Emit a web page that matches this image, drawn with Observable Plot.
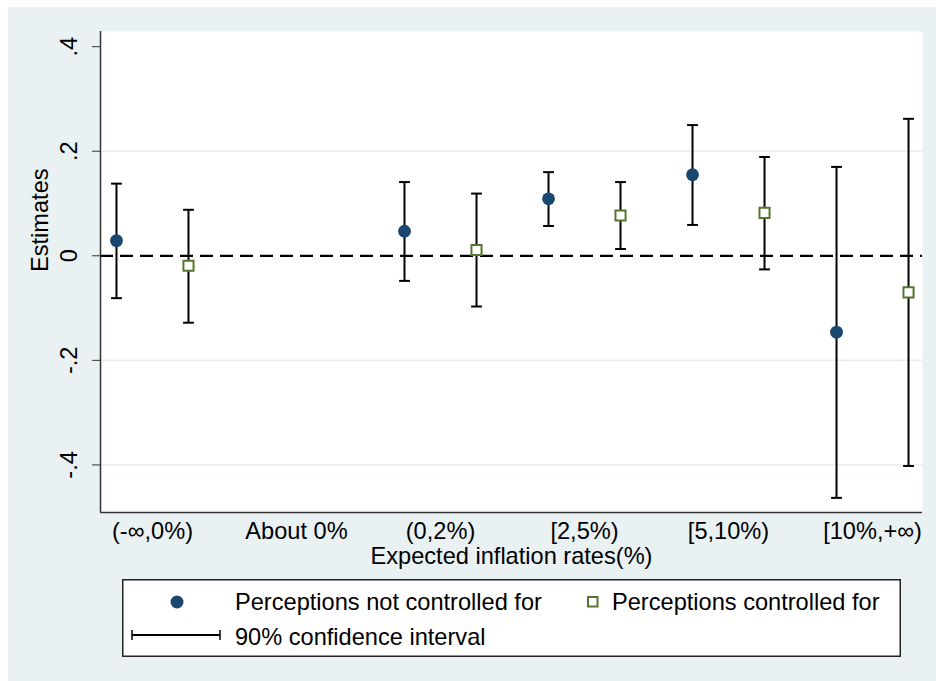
<!DOCTYPE html>
<html><head><meta charset="utf-8">
<script src="https://cdn.jsdelivr.net/npm/d3@7"></script>
<script src="https://cdn.jsdelivr.net/npm/@observablehq/plot@0.6"></script>
<style>
html,body{margin:0;padding:0;background:#fff;}
#wrap{position:relative;width:936px;height:681px;overflow:hidden;}
#bg{position:absolute;left:8px;top:7px;width:928px;height:674px;background:#eaf1f3;}
#chart{position:absolute;left:0;top:0;}
#legend{position:absolute;left:122px;top:579px;}
</style></head><body>
<div id="wrap"><div id="bg"></div><div id="chart"></div><div id="legend"></div></div>
<script>
const categories = ["(-∞,0%)", "About 0%", "(0,2%)", "[2,5%)", "[5,10%)", "[10%,+∞)"];
// Perceptions not controlled for (null = no estimate shown)
const notCtrlEst = [0.029, null, 0.047, 0.109, 0.155, -0.146];
const notCtrlLo  = [-0.081, null, -0.048, 0.057, 0.059, -0.463];
const notCtrlHi  = [0.138, null, 0.141, 0.160, 0.250, 0.170];
// Perceptions controlled for
const ctrlEst = [-0.019, null, 0.011, 0.077, 0.082, -0.070];
const ctrlLo  = [-0.128, null, -0.097, 0.013, -0.026, -0.402];
const ctrlHi  = [0.088, null, 0.119, 0.141, 0.189, 0.262];
const yTicks = [0.4, 0.2, 0, -0.2, -0.4];
const yTickLabels = [".4", ".2", "0", "-.2", "-.4"];
const gridValues = [0.2, -0.2, -0.4];
const seriesNames = ["Perceptions not controlled for", "Perceptions controlled for"];
const ciLabel = "90% confidence interval";
const xTitle = "Expected inflation rates(%)";
const yTitle = "Estimates";

const navy = "#1a476f", green = "#55752f";
const FONT = "'Liberation Sans', Arial, Helvetica, sans-serif";
const FS = 23.6;

function rowsFor(est, lo, hi, offset, series) {
  const out = [];
  est.forEach((v, i) => { if (v != null) out.push({x: i + offset, est: v, lo: lo[i], hi: hi[i], series}); });
  return out;
}
const rowsA = rowsFor(notCtrlEst, notCtrlLo, notCtrlHi, -0.25, seriesNames[0]);
const rowsB = rowsFor(ctrlEst, ctrlLo, ctrlHi, 0.25, seriesNames[1]);
const allRows = rowsA.concat(rowsB);

const xDomain = [-0.361, 5.347];
const yDomain = [-0.491, 0.429];

const capSymbol = {draw(ctx, size) { const r = Math.sqrt(size / Math.PI); ctx.moveTo(-r, 0); ctx.lineTo(r, 0); }};

const plot = Plot.plot({
  width: 936, height: 575,
  marginLeft: 100, marginRight: 14, marginTop: 31, marginBottom: 63,
  style: {fontFamily: FONT, fontSize: FS + "px", color: "#000", background: "transparent", overflow: "visible"},
  x: {type: "linear", domain: xDomain, label: null},
  y: {domain: yDomain, label: null},
  marks: [
    Plot.frame({fill: "white", stroke: null}),
    Plot.ruleY(gridValues, {stroke: "#e6eef1", strokeWidth: 1.5}),
    Plot.ruleY([0], {stroke: "#000", strokeWidth: 2.2, strokeDasharray: "13,7"}),
    Plot.ruleX([xDomain[0]], {stroke: "#333", strokeWidth: 1.5}),
    Plot.ruleY([yDomain[0]], {stroke: "#333", strokeWidth: 1.5}),
    Plot.ruleX(allRows, {x: "x", y1: "lo", y2: "hi", stroke: "#000", strokeWidth: 2}),
    Plot.dot(allRows, {x: "x", y: "hi", symbol: capSymbol, r: 5.4, fill: "none", stroke: "#000", strokeWidth: 2}),
    Plot.dot(allRows, {x: "x", y: "lo", symbol: capSymbol, r: 5.4, fill: "none", stroke: "#000", strokeWidth: 2}),
    Plot.dot(rowsA, {x: "x", y: "est", r: 6.4, fill: navy, stroke: null}),
    Plot.dot(rowsB, {x: "x", y: "est", symbol: "square", r: 5.7, fill: "white", stroke: green, strokeWidth: 2}),
    Plot.axisX(d3.range(categories.length), {tickFormat: i => categories[i], tickSize: 0, tickPadding: 10, fontSize: FS, label: null}),
    Plot.axisY(yTicks, {tickSize: 8, tickFormat: d => yTickLabels[yTicks.indexOf(d)], tickRotate: -90, tickPadding: 16, fontSize: FS, label: null, stroke: "#333"}),
    Plot.text([yTitle], {text: d => d, frameAnchor: "left", dx: -60, rotate: -90, fontSize: FS}),
    Plot.text([xTitle], {text: d => d, frameAnchor: "bottom", dy: 51, lineAnchor: "bottom", fontSize: FS})
  ]
});
document.getElementById("chart").appendChild(plot);

// Legend
const lw = 779, lh = 78;
const leg = d3.select("#legend").append("svg").attr("width", lw).attr("height", lh)
  .style("font-family", FONT).style("font-size", FS + "px");
leg.append("rect").attr("x", 0.75).attr("y", 0.75).attr("width", lw - 1.5).attr("height", lh - 1.5)
  .attr("fill", "white").attr("stroke", "#222").attr("stroke-width", 1.5);
leg.append("circle").attr("cx", 55).attr("cy", 23).attr("r", 6.5).attr("fill", navy);
leg.append("text").attr("x", 113).attr("y", 31).text(seriesNames[0]);
leg.append("rect").attr("x", 466).attr("y", 18).attr("width", 9.5).attr("height", 9.5)
  .attr("fill", "white").attr("stroke", green).attr("stroke-width", 2);
leg.append("text").attr("x", 490).attr("y", 31).text(seriesNames[1]);
leg.append("line").attr("x1", 10).attr("x2", 98).attr("y1", 56).attr("y2", 56).attr("stroke", "#000").attr("stroke-width", 2);
leg.append("line").attr("x1", 10).attr("x2", 10).attr("y1", 51).attr("y2", 61).attr("stroke", "#000").attr("stroke-width", 1.5);
leg.append("line").attr("x1", 98).attr("x2", 98).attr("y1", 51).attr("y2", 61).attr("stroke", "#000").attr("stroke-width", 1.5);
leg.append("text").attr("x", 113).attr("y", 66).text(ciLabel);
</script>
</body></html>
